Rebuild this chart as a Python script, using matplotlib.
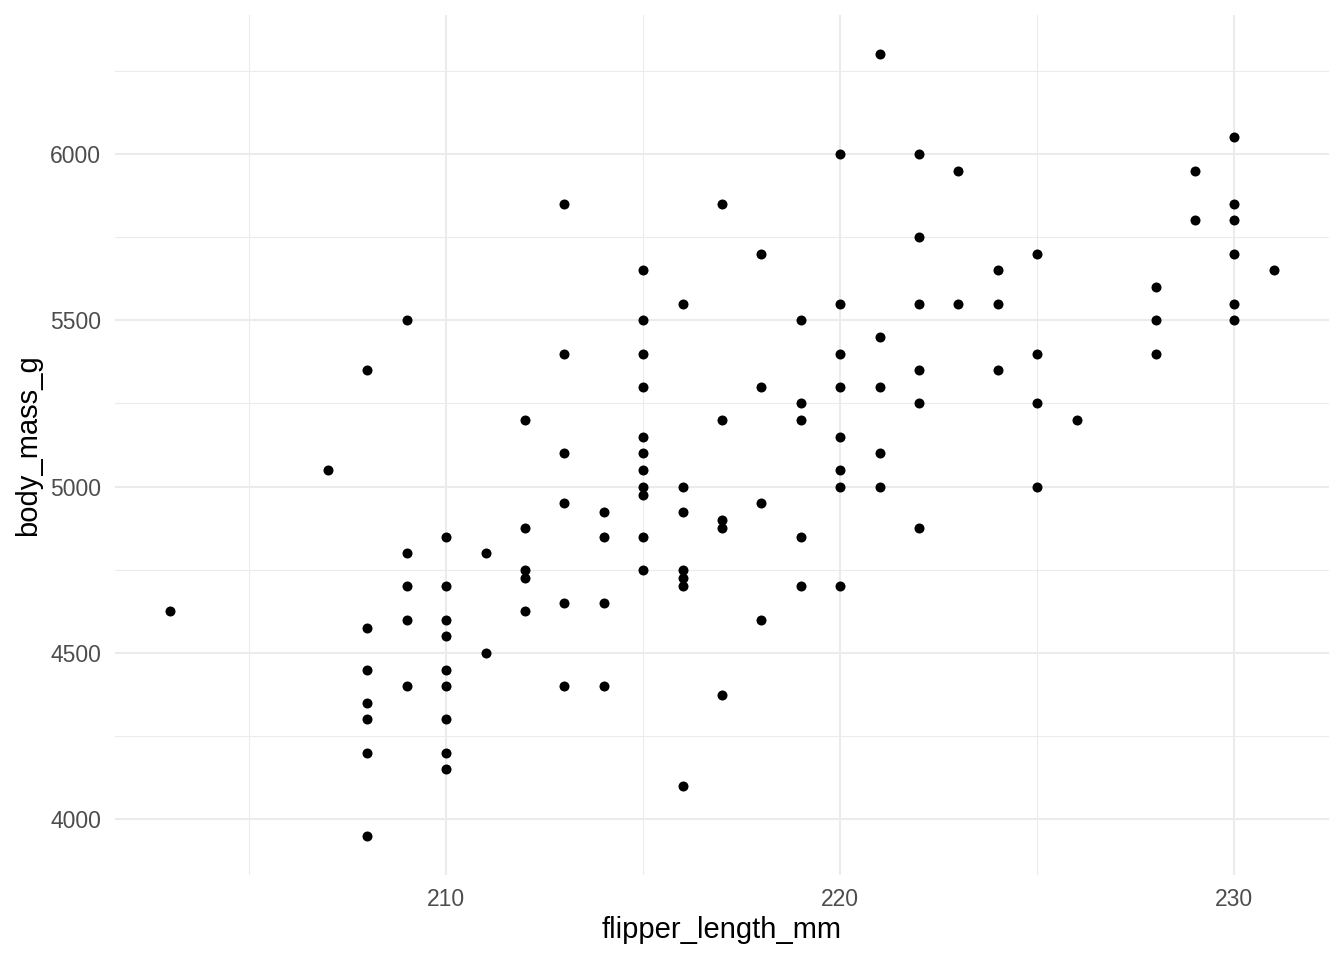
import matplotlib
matplotlib.use('Agg')
import matplotlib.pyplot as plt
from matplotlib.ticker import MultipleLocator

# values, one entry per point
flipper_length_mm = [
    203,
    207,
    208, 208, 208, 208, 208, 208, 208,
    209, 209, 209, 209, 209,
    210, 210, 210, 210, 210, 210, 210, 210, 210,
    211, 211,
    212, 212, 212, 212, 212,
    213, 213, 213, 213, 213, 213,
    214, 214, 214, 214,
    215, 215, 215, 215, 215, 215, 215, 215, 215, 215, 215,
    216, 216, 216, 216, 216, 216, 216,
    217, 217, 217, 217, 217,
    218, 218, 218, 218,
    219, 219, 219, 219, 219,
    220, 220, 220, 220, 220, 220, 220, 220,
    221, 221, 221, 221, 221,
    222, 222, 222, 222, 222, 222,
    223, 223,
    224, 224, 224,
    225, 225, 225, 225,
    226,
    228, 228, 228,
    229, 229,
    230, 230, 230, 230, 230, 230,
    231,
]
body_mass_g = [
    4625,
    5050,
    5350, 4575, 4450, 4350, 4300, 4200, 3950,
    5500, 4800, 4700, 4600, 4400,
    4850, 4700, 4600, 4550, 4450, 4400, 4300, 4200, 4150,
    4800, 4500,
    5200, 4875, 4750, 4725, 4625,
    5850, 5400, 5100, 4950, 4650, 4400,
    4925, 4850, 4650, 4400,
    5650, 5500, 5400, 5300, 5150, 5100, 5050, 5000, 4975, 4850, 4750,
    5550, 5000, 4925, 4750, 4725, 4700, 4100,
    5850, 5200, 4900, 4875, 4375,
    5700, 5300, 4950, 4600,
    5500, 5250, 5200, 4850, 4700,
    6000, 5550, 5400, 5300, 5150, 5050, 5000, 4700,
    6300, 5450, 5300, 5100, 5000,
    6000, 5750, 5550, 5350, 5250, 4875,
    5950, 5550,
    5650, 5550, 5350,
    5700, 5400, 5250, 5000,
    5200,
    5600, 5500, 5400,
    5950, 5800,
    6050, 5850, 5800, 5700, 5550, 5500,
    5650,
]

plt.rcParams['font.family'] = ['Liberation Sans', 'DejaVu Sans']

fig = plt.figure(figsize=(13.44, 9.6), dpi=100)
ax = fig.add_axes([0.0856, 0.0885, 0.9032, 0.8959])

ax.scatter(flipper_length_mm, body_mass_g, s=52, color='black',
           linewidths=0, zorder=3)

# ggplot-style 5% expansion
xr = max(flipper_length_mm) - min(flipper_length_mm)
yr = max(body_mass_g) - min(body_mass_g)
ax.set_xlim(min(flipper_length_mm) - 0.05 * xr, max(flipper_length_mm) + 0.05 * xr)
ax.set_ylim(min(body_mass_g) - 0.05 * yr, max(body_mass_g) + 0.05 * yr)

ax.xaxis.set_major_locator(MultipleLocator(10))
ax.xaxis.set_minor_locator(MultipleLocator(5))
ax.yaxis.set_major_locator(MultipleLocator(500))
ax.yaxis.set_minor_locator(MultipleLocator(250))

ax.grid(which='major', color='#EBEBEB', linewidth=1.5)
ax.grid(which='minor', color='#EBEBEB', linewidth=0.75)
ax.set_axisbelow(True)
for s in ax.spines.values():
    s.set_visible(False)

ax.tick_params(which='both', length=0)
ax.tick_params(axis='x', labelsize=16.5, labelcolor='#4D4D4D', pad=9)
ax.tick_params(axis='y', labelsize=16.5, labelcolor='#4D4D4D', pad=10)

ax.set_xlabel('flipper_length_mm', fontsize=21, labelpad=4)
ax.set_ylabel('body_mass_g', fontsize=21, labelpad=6)

fig.savefig('out.png', dpi=100, facecolor='white')
